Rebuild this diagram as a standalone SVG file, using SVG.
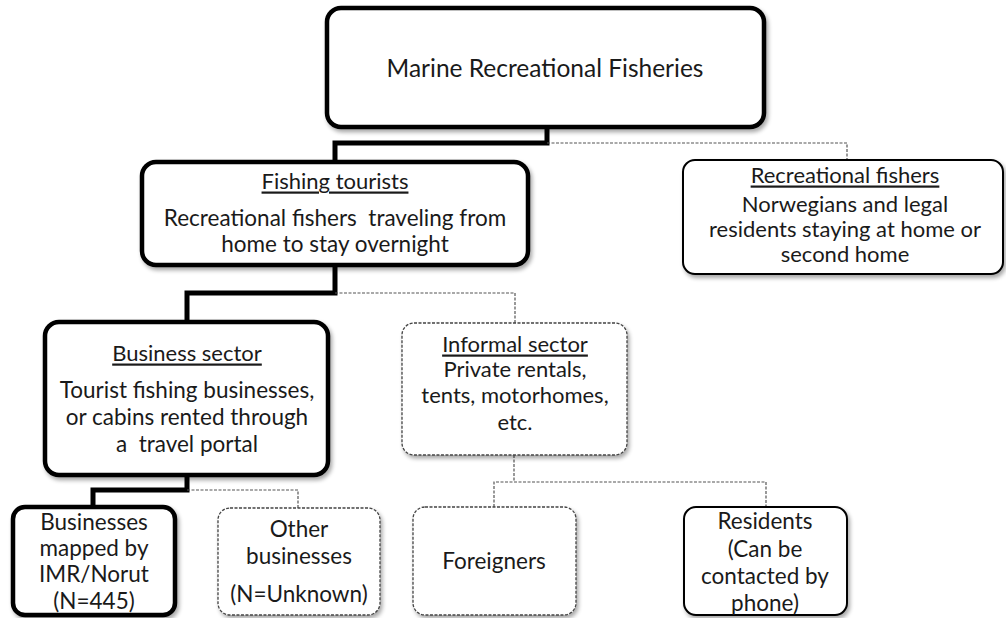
<svg xmlns="http://www.w3.org/2000/svg" width="1006" height="618" viewBox="0 0 1006 618">
  <defs>
    <filter id="shadow" x="-10%" y="-10%" width="125%" height="130%">
      <feGaussianBlur in="SourceAlpha" stdDeviation="2"/>
      <feOffset dx="2" dy="3" result="off"/>
      <feComponentTransfer><feFuncA type="linear" slope="0.35"/></feComponentTransfer>
      <feMerge><feMergeNode/><feMergeNode in="SourceGraphic"/></feMerge>
    </filter>
    <style>
      .box { fill: #fff; filter: url(#shadow); }
      .heavy { stroke: #000; stroke-width: 4.5; }
      .solid { stroke: #000; stroke-width: 2; }
      .dashed { stroke: #444; stroke-width: 1.3; stroke-dasharray: 3 1.5; }
      .link-heavy { fill: none; stroke: #000; stroke-width: 5; stroke-linejoin: miter; }
      .link-dash { fill: none; stroke: #555; stroke-width: 1.2; stroke-dasharray: 3 1.5; }
      text { font-family: Lato, "Liberation Sans", sans-serif; font-size: 22.5px; fill: #1a1a1a; text-anchor: middle; dominant-baseline: central; }
      .title { font-size: 24.5px; }
      .small { font-size: 22px; }
      .head { text-decoration: underline; }
    </style>
  </defs>

  <!-- connectors -->
  <g id="connectors">
    <polyline class="link-heavy" points="547,127 547,143 335,143 335,162"/>
    <polyline class="link-dash" points="547,143 847,143 847,160"/>
    <polyline class="link-heavy" points="335,265 335,293 187,293 187,322"/>
    <polyline class="link-dash" points="335,293 515,293 515,323"/>
    <polyline class="link-heavy" points="187,475 187,490 93,490 93,507"/>
    <polyline class="link-dash" points="187,490 298,490 298,508"/>
    <polyline class="link-dash" points="514,455 514,482"/>
    <polyline class="link-dash" points="494,507 494,482 766,482 766,507"/>
  </g>

  <g id="node-marine">
    <rect class="box heavy" x="327" y="8" width="437" height="119" rx="14"/>
    <text class="title" x="545" y="67">Marine Recreational Fisheries</text>
  </g>

  <g id="node-fishing-tourists">
    <rect class="box heavy" x="142" y="162" width="386" height="103" rx="14"/>
    <text class="head small" x="335" y="180">Fishing tourists</text>
    <text x="335" y="217" xml:space="preserve">Recreational fishers  traveling from</text>
    <text x="335" y="243">home to stay overnight</text>
  </g>

  <g id="node-recreational-fishers">
    <rect class="box solid" x="683" y="160" width="320" height="114" rx="12"/>
    <text class="head small" x="845" y="174">Recreational fishers</text>
    <text class="small" x="845" y="203">Norwegians and legal</text>
    <text class="small" x="845" y="228">residents staying at home or</text>
    <text class="small" x="845" y="253">second home</text>
  </g>

  <g id="node-business-sector">
    <rect class="box heavy" x="45" y="322" width="283" height="153" rx="14"/>
    <text class="head small" x="187" y="352">Business sector</text>
    <text x="187" y="389">Tourist fishing businesses,</text>
    <text x="187" y="416">or cabins rented through</text>
    <text x="187" y="443" xml:space="preserve">a  travel portal</text>
  </g>

  <g id="node-informal-sector">
    <rect class="box dashed" x="402" y="323" width="225" height="132" rx="12"/>
    <text class="head small" x="515" y="343">Informal sector</text>
    <text class="small" x="515" y="368">Private rentals,</text>
    <text class="small" x="515" y="394">tents, motorhomes,</text>
    <text class="small" x="515" y="421">etc.</text>
  </g>

  <g id="node-businesses-mapped">
    <rect class="box heavy" x="13" y="507" width="162" height="108" rx="12"/>
    <text x="94" y="521">Businesses</text>
    <text x="94" y="547">mapped by</text>
    <text x="94" y="573">IMR/Norut</text>
    <text x="94" y="600">(N=445)</text>
  </g>

  <g id="node-other-businesses">
    <rect class="box dashed" x="218" y="508" width="162" height="107" rx="12"/>
    <text x="299" y="528">Other</text>
    <text x="299" y="555">businesses</text>
    <text x="299" y="593">(N=Unknown)</text>
  </g>

  <g id="node-foreigners">
    <rect class="box dashed" x="413" y="507" width="163" height="108" rx="12"/>
    <text x="494" y="560">Foreigners</text>
  </g>

  <g id="node-residents">
    <rect class="box solid" x="684" y="507" width="163" height="108" rx="12"/>
    <text x="765" y="520">Residents</text>
    <text x="765" y="548">(Can be</text>
    <text x="765" y="575">contacted by</text>
    <text x="765" y="602">phone)</text>
  </g>
</svg>
